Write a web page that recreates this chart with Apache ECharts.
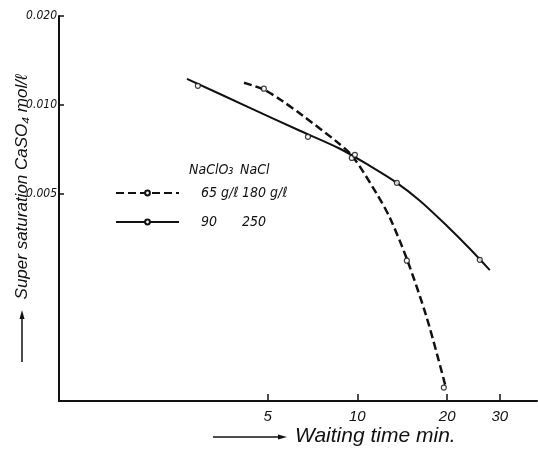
<!DOCTYPE html>
<html>
<head>
<meta charset="utf-8">
<script src="https://cdn.jsdelivr.net/npm/echarts@6/dist/echarts.min.js"></script>
<style>
html,body{margin:0;padding:0;background:#fff;}
#c{width:538px;height:452px;}
</style>
</head>
<body>
<div id="c"></div>
<script>
// ---- data ----
const xTicks = [5, 10, 20, 30];
const yTicks = [0.005, 0.010, 0.020];

// NaClO3 65 g/l, NaCl 180 g/l (dashed): drawn curve and measured points
const dashedCurveX = [4.17, 4.86, 5.59, 6.57, 8.54, 9.66, 11.62, 12.85, 14.65, 17.09, 19.8];
const dashedCurveY = [0.0119, 0.01127, 0.01034, 0.0092, 0.00751, 0.00669, 0.00501, 0.00416, 0.00302, 0.00191, 0.00111];
const dashedPointX = [4.86, 9.58, 14.65, 19.49];
const dashedPointY = [0.01136, 0.00663, 0.00298, 0.00111];

// NaClO3 90 g/l, NaCl 250 g/l (solid): drawn curve and measured points
const solidCurveX = [2.685, 4.364, 6.42, 8.74, 11.01, 13.56, 16.2, 19.94, 23.82, 27.79];
const solidCurveY = [0.01227, 0.00979, 0.00819, 0.00712, 0.00623, 0.00546, 0.00475, 0.00391, 0.00327, 0.00277];
const solidPointX = [2.92, 6.83, 9.81, 13.56, 25.72];
const solidPointY = [0.01162, 0.00781, 0.00679, 0.00546, 0.00300];

const legendNaClO3 = ['65 g/ℓ', '90'];
const legendNaCl = ['180 g/ℓ', '250'];
const seriesNames = ['NaClO₃ 65 g/ℓ, NaCl 180 g/ℓ', 'NaClO₃ 90 g/ℓ, NaCl 250 g/ℓ'];

const FONT = "'Liberation Sans', 'DejaVu Sans', sans-serif";
const NARROW = "'Liberation Sans Narrow', 'DejaVu Sans Condensed', sans-serif";

const zip = (xs, ys) => xs.map((x, i) => [x, ys[i]]);

const chart = echarts.init(document.getElementById('c'), null, { renderer: 'canvas' });
const symbolStyle = { color: '#fff', borderColor: '#111', borderWidth: 1.2 };

chart.setOption({
  animation: false,
  backgroundColor: '#fff',
  grid: { left: 59, right: 1, top: 16, bottom: 51 },
  xAxis: {
    type: 'log', logBase: 10, min: 1, max: 40,
    splitLine: { show: false },
    axisLine: { lineStyle: { color: '#111', width: 2 } },
    axisTick: { inside: true, length: 7, lineStyle: { color: '#111', width: 1.5 }, customValues: xTicks },
    axisLabel: {
      customValues: xTicks, formatter: v => String(Math.round(v)),
      color: '#111', fontSize: 15, fontStyle: 'italic', fontFamily: FONT, margin: 8
    },
    minorTick: { show: false }
  },
  yAxis: {
    type: 'log', logBase: 10, min: 0.001, max: 0.02,
    splitLine: { show: false },
    axisLine: { lineStyle: { color: '#111', width: 2 } },
    axisTick: { inside: true, length: 5, lineStyle: { color: '#111', width: 1.5 }, customValues: yTicks },
    axisLabel: {
      customValues: yTicks, formatter: v => Number(v).toFixed(3),
      color: '#111', fontSize: 12, fontStyle: 'italic', fontFamily: NARROW, margin: 2
    }
  },
  legend: {
    left: 110, top: 181, orient: 'vertical',
    itemWidth: 63, itemHeight: 6, itemGap: 15,
    data: seriesNames,
    formatter: name => {
      const i = seriesNames.indexOf(name);
      return '{a|' + legendNaClO3[i] + '}{b|' + legendNaCl[i] + '}';
    },
    textStyle: {
      color: '#111', fontFamily: NARROW, fontStyle: 'italic', fontSize: 14,
      rich: {
        a: { width: 41, padding: [0, 0, 0, 17], fontSize: 14, fontStyle: 'italic', fontFamily: NARROW, color: '#111' },
        b: { fontSize: 14, fontStyle: 'italic', fontFamily: NARROW, color: '#111' }
      }
    }
  },
  series: [
    {
      name: seriesNames[0], type: 'line', smooth: 0.3,
      data: zip(dashedCurveX, dashedCurveY),
      symbol: 'circle', symbolSize: 5, showSymbol: false,
      lineStyle: { color: '#111', width: 2.5, type: [8, 4] },
      itemStyle: symbolStyle
    },
    {
      name: seriesNames[1], type: 'line', smooth: 0.3,
      data: zip(solidCurveX, solidCurveY),
      symbol: 'circle', symbolSize: 5, showSymbol: false,
      lineStyle: { color: '#111', width: 2 },
      itemStyle: symbolStyle
    },
    {
      name: 'points 65/180', type: 'scatter',
      data: zip(dashedPointX, dashedPointY),
      symbol: 'circle', symbolSize: 5, itemStyle: symbolStyle, z: 5
    },
    {
      name: 'points 90/250', type: 'scatter',
      data: zip(solidPointX, solidPointY),
      symbol: 'circle', symbolSize: 5, itemStyle: symbolStyle, z: 5
    }
  ],
  graphic: [
    { type: 'text', left: 189, top: 163, style: { text: 'NaClO₃', font: 'italic 14px ' + NARROW, fill: '#111' } },
    { type: 'text', left: 240, top: 163, style: { text: 'NaCl', font: 'italic 14px ' + NARROW, fill: '#111' } },
    { type: 'text', x: 22, y: 187, rotation: Math.PI / 2,
      style: { text: 'Super saturation CaSO₄ mol/ℓ', font: 'italic 17px ' + FONT, fill: '#111', align: 'center', verticalAlign: 'middle' } },
    { type: 'line', shape: { x1: 22, y1: 362, x2: 22, y2: 316 }, style: { stroke: '#111', lineWidth: 1.5 } },
    { type: 'polygon', shape: { points: [[22, 310], [19.5, 319], [24.5, 319]] }, style: { fill: '#111' } },
    { type: 'line', shape: { x1: 213, y1: 437, x2: 280, y2: 437 }, style: { stroke: '#111', lineWidth: 1.5 } },
    { type: 'polygon', shape: { points: [[287, 437], [278, 434.5], [278, 439.5]] }, style: { fill: '#111' } },
    { type: 'text', left: 295, top: 426, style: { text: 'Waiting time min.', font: 'italic 21px ' + FONT, fill: '#111' } }
  ]
});
</script>
</body>
</html>
